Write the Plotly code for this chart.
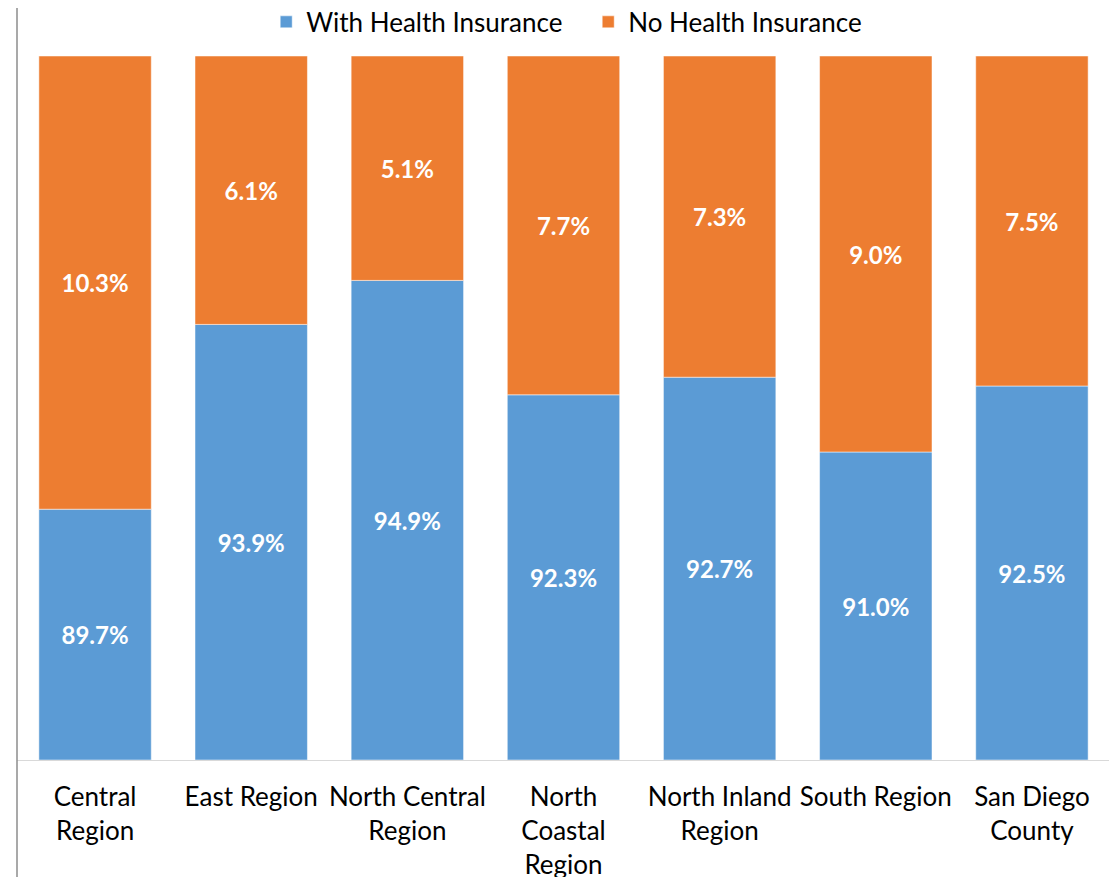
import plotly.graph_objects as go

regions = ['Central<br>Region', 'East Region', 'North Central<br>Region',
           'North<br>Coastal<br>Region', 'North Inland<br>Region',
           'South Region', 'San Diego<br>County']
with_ins = [89.7, 93.9, 94.9, 92.3, 92.7, 91.0, 92.5]
no_ins = [10.3, 6.1, 5.1, 7.7, 7.3, 9.0, 7.5]

axis_min = 84
font = 'Lato'

fig = go.Figure()

fig.add_trace(go.Bar(
    x=regions,
    y=[v - axis_min for v in with_ins],
    base=axis_min,
    name='With Health Insurance',
    marker=dict(color='#5B9BD5', line=dict(color='white', width=0.5)),
    text=[f'{v:.1f}%' for v in with_ins],
    textposition='inside',
    insidetextanchor='middle',
    textfont=dict(color='white', size=24, family=font, weight='bold'),
    textangle=0,
))

fig.add_trace(go.Bar(
    x=regions,
    y=no_ins,
    base=with_ins,
    name='No Health Insurance',
    marker=dict(color='#ED7D31', line=dict(color='white', width=0.5)),
    text=[f'{v:.1f}%' for v in no_ins],
    textposition='inside',
    insidetextanchor='middle',
    textfont=dict(color='white', size=24, family=font, weight='bold'),
    textangle=0,
))

# the page has an 8px body margin, so the figure is a bit smaller
fig.update_layout(
    width=1109,
    height=869,
    barmode='overlay',
    bargap=0.28,
    paper_bgcolor='white',
    plot_bgcolor='white',
    margin=dict(l=9, r=7, t=48, b=117, autoexpand=False),
    font=dict(family=font, size=26, color='black'),
    showlegend=True,
    legend=dict(
        orientation='h',
        x=0.228, xanchor='left',
        y=1.015, yanchor='bottom',
        font=dict(size=26, family=font, color='black'),
        traceorder='normal',
        itemwidth=30,
        entrywidth=277,
    ),
    xaxis=dict(
        showline=True, linecolor='#d9d9d9', linewidth=1,
        ticks='', showgrid=False,
        tickfont=dict(size=26, family=font, color='black'),
        ticklabelstandoff=14,
    ),
    yaxis=dict(
        range=[axis_min, 100], visible=False, showgrid=False,
    ),
    shapes=[dict(
        type='line', xref='paper', yref='paper',
        x0=0, x1=0, y0=-0.3, y1=1.2,
        line=dict(color='#8c8c8c', width=1.5),
    )],
)

fig.write_html('out.html')
